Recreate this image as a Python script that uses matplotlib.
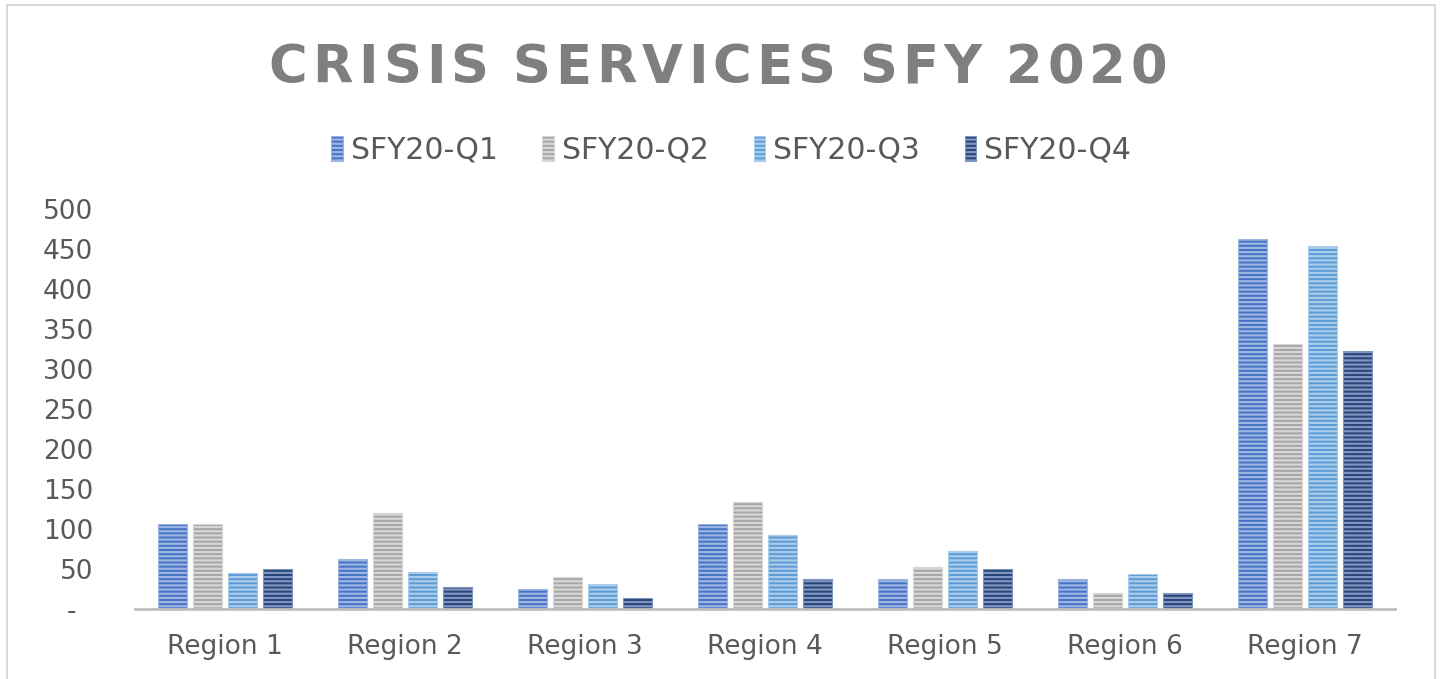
import matplotlib.pyplot as plt
import matplotlib.patches as mpatches
import numpy as np

# Data
regions = ['Region 1', 'Region 2', 'Region 3', 'Region 4', 'Region 5', 'Region 6', 'Region 7']
quarters = ['SFY20-Q1', 'SFY20-Q2', 'SFY20-Q3', 'SFY20-Q4']
q1 = [106, 63, 25, 106, 38, 38, 462]
q2 = [106, 120, 40, 134, 52, 20, 331]
q3 = [45, 46, 31, 93, 72, 44, 454]
q4 = [50, 27, 14, 37, 50, 20, 322]
y_ticks = [0, 50, 100, 150, 200, 250, 300, 350, 400, 450, 500]
y_labels = ['-  '] + [str(t) for t in y_ticks[1:]]
title = 'CRISIS SERVICES SFY 2020'

colors = ['#4472C4', '#A5A5A5', '#5B9BD5', '#264478']
stripes = ['#9DB5E3', '#D6D6D6', '#A9CCEC', '#7F94BE']

plt.rcParams['font.family'] = ['DejaVu Sans']
plt.rcParams['hatch.linewidth'] = 1.6

fig = plt.figure(figsize=(14.42, 6.79), dpi=100)
ax = fig.add_axes([0.0936, 0.1031, 0.8738, 0.5891])

x = np.arange(len(regions))
pitch = 0.194
width = 0.161
series = [q1, q2, q3, q4]
for i, vals in enumerate(series):
    ax.bar(x + (i - 1.5) * pitch, vals, width, color=colors[i],
           edgecolor=stripes[i], linewidth=0.8, hatch='----', label=quarters[i])

ax.set_xlim(-0.5, len(regions) - 0.5)
ax.set_ylim(0, 500)
ax.set_yticks(y_ticks)
ax.set_yticklabels(y_labels)
ax.set_xticks(x)
ax.set_xticklabels(regions)

for s in ['top', 'right', 'left']:
    ax.spines[s].set_visible(False)
ax.spines['bottom'].set_color('#BFBFBF')
ax.spines['bottom'].set_linewidth(2)
ax.tick_params(axis='both', length=0, labelsize=19, labelcolor='#595959')
ax.tick_params(axis='x', pad=18)
ax.tick_params(axis='y', pad=30)

# letter-spaced title: place each character by hand
renderer = fig.canvas.get_renderer()
spacing = 5.0  # extra pixels between letters
chars = []
for ch in title:
    t = fig.text(0, 0.90, ch, ha='left', va='center', fontsize=38,
                 fontweight='bold', color='#7F7F7F')
    w = t.get_window_extent(renderer).width if ch != ' ' else 14.0
    chars.append((t, w))
total = sum(w for _, w in chars) + spacing * (len(chars) - 1)
xpos = 718 - total / 2
for t, w in chars:
    t.set_x(xpos / fig.bbox.width)
    xpos += w + spacing

fig.legend(loc='center', bbox_to_anchor=(0.507, 0.779), ncol=4, frameon=False,
           fontsize=21.5, labelcolor='#595959', handlelength=0.4, handleheight=0.9,
           handletextpad=0.25, columnspacing=1.5)

# light chart border
fig.patches.append(mpatches.Rectangle((0.005, -0.01), 0.99, 1.002, transform=fig.transFigure,
                                      fill=False, edgecolor='#D9D9D9', linewidth=1.5))

fig.savefig('out.png', dpi=100)
